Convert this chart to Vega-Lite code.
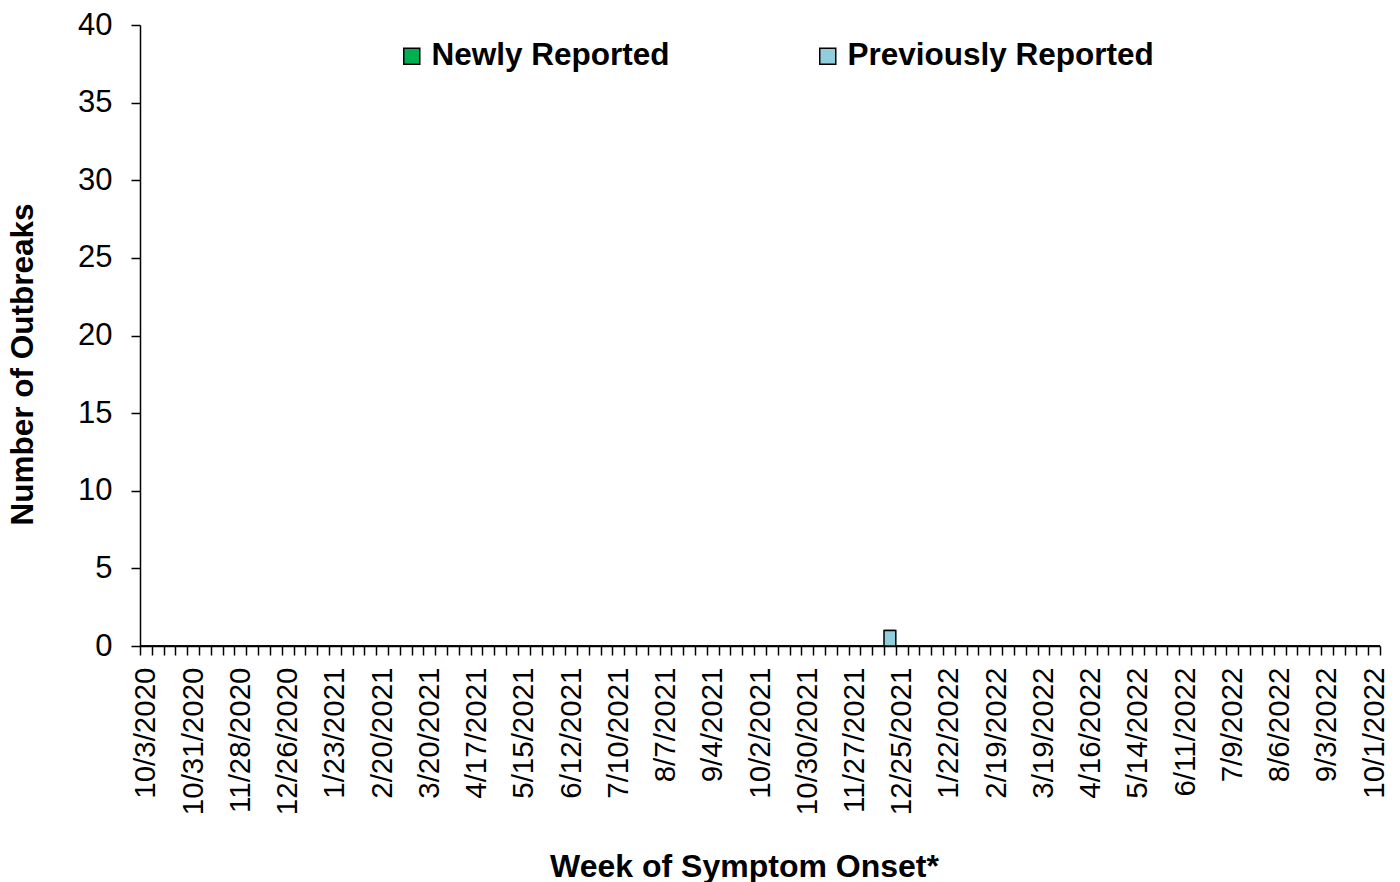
{
  "$schema": "https://vega.github.io/schema/vega-lite/v6.json",
  "autosize": "none",
  "width": 1240,
  "height": 621,
  "padding": {"left": 140, "top": 25, "right": 20, "bottom": 236},
  "background": "white",
  "config": {
    "font": "Liberation Sans",
    "view": {"stroke": null},
    "axis": {"grid": false, "domainColor": "black", "tickColor": "black", "labelColor": "black", "titleColor": "black", "labelFont": "Liberation Sans", "titleFont": "Liberation Sans"}
  },
  "data": {"values": [
    {"week":"10/3/2020","Newly Reported":0,"Previously Reported":0},
    {"week":"10/10/2020","Newly Reported":0,"Previously Reported":0},
    {"week":"10/17/2020","Newly Reported":0,"Previously Reported":0},
    {"week":"10/24/2020","Newly Reported":0,"Previously Reported":0},
    {"week":"10/31/2020","Newly Reported":0,"Previously Reported":0},
    {"week":"11/7/2020","Newly Reported":0,"Previously Reported":0},
    {"week":"11/14/2020","Newly Reported":0,"Previously Reported":0},
    {"week":"11/21/2020","Newly Reported":0,"Previously Reported":0},
    {"week":"11/28/2020","Newly Reported":0,"Previously Reported":0},
    {"week":"12/5/2020","Newly Reported":0,"Previously Reported":0},
    {"week":"12/12/2020","Newly Reported":0,"Previously Reported":0},
    {"week":"12/19/2020","Newly Reported":0,"Previously Reported":0},
    {"week":"12/26/2020","Newly Reported":0,"Previously Reported":0},
    {"week":"1/2/2021","Newly Reported":0,"Previously Reported":0},
    {"week":"1/9/2021","Newly Reported":0,"Previously Reported":0},
    {"week":"1/16/2021","Newly Reported":0,"Previously Reported":0},
    {"week":"1/23/2021","Newly Reported":0,"Previously Reported":0},
    {"week":"1/30/2021","Newly Reported":0,"Previously Reported":0},
    {"week":"2/6/2021","Newly Reported":0,"Previously Reported":0},
    {"week":"2/13/2021","Newly Reported":0,"Previously Reported":0},
    {"week":"2/20/2021","Newly Reported":0,"Previously Reported":0},
    {"week":"2/27/2021","Newly Reported":0,"Previously Reported":0},
    {"week":"3/6/2021","Newly Reported":0,"Previously Reported":0},
    {"week":"3/13/2021","Newly Reported":0,"Previously Reported":0},
    {"week":"3/20/2021","Newly Reported":0,"Previously Reported":0},
    {"week":"3/27/2021","Newly Reported":0,"Previously Reported":0},
    {"week":"4/3/2021","Newly Reported":0,"Previously Reported":0},
    {"week":"4/10/2021","Newly Reported":0,"Previously Reported":0},
    {"week":"4/17/2021","Newly Reported":0,"Previously Reported":0},
    {"week":"4/24/2021","Newly Reported":0,"Previously Reported":0},
    {"week":"5/1/2021","Newly Reported":0,"Previously Reported":0},
    {"week":"5/8/2021","Newly Reported":0,"Previously Reported":0},
    {"week":"5/15/2021","Newly Reported":0,"Previously Reported":0},
    {"week":"5/22/2021","Newly Reported":0,"Previously Reported":0},
    {"week":"5/29/2021","Newly Reported":0,"Previously Reported":0},
    {"week":"6/5/2021","Newly Reported":0,"Previously Reported":0},
    {"week":"6/12/2021","Newly Reported":0,"Previously Reported":0},
    {"week":"6/19/2021","Newly Reported":0,"Previously Reported":0},
    {"week":"6/26/2021","Newly Reported":0,"Previously Reported":0},
    {"week":"7/3/2021","Newly Reported":0,"Previously Reported":0},
    {"week":"7/10/2021","Newly Reported":0,"Previously Reported":0},
    {"week":"7/17/2021","Newly Reported":0,"Previously Reported":0},
    {"week":"7/24/2021","Newly Reported":0,"Previously Reported":0},
    {"week":"7/31/2021","Newly Reported":0,"Previously Reported":0},
    {"week":"8/7/2021","Newly Reported":0,"Previously Reported":0},
    {"week":"8/14/2021","Newly Reported":0,"Previously Reported":0},
    {"week":"8/21/2021","Newly Reported":0,"Previously Reported":0},
    {"week":"8/28/2021","Newly Reported":0,"Previously Reported":0},
    {"week":"9/4/2021","Newly Reported":0,"Previously Reported":0},
    {"week":"9/11/2021","Newly Reported":0,"Previously Reported":0},
    {"week":"9/18/2021","Newly Reported":0,"Previously Reported":0},
    {"week":"9/25/2021","Newly Reported":0,"Previously Reported":0},
    {"week":"10/2/2021","Newly Reported":0,"Previously Reported":0},
    {"week":"10/9/2021","Newly Reported":0,"Previously Reported":0},
    {"week":"10/16/2021","Newly Reported":0,"Previously Reported":0},
    {"week":"10/23/2021","Newly Reported":0,"Previously Reported":0},
    {"week":"10/30/2021","Newly Reported":0,"Previously Reported":0},
    {"week":"11/6/2021","Newly Reported":0,"Previously Reported":0},
    {"week":"11/13/2021","Newly Reported":0,"Previously Reported":0},
    {"week":"11/20/2021","Newly Reported":0,"Previously Reported":0},
    {"week":"11/27/2021","Newly Reported":0,"Previously Reported":0},
    {"week":"12/4/2021","Newly Reported":0,"Previously Reported":0},
    {"week":"12/11/2021","Newly Reported":0,"Previously Reported":0},
    {"week":"12/18/2021","Newly Reported":0,"Previously Reported":1},
    {"week":"12/25/2021","Newly Reported":0,"Previously Reported":0},
    {"week":"1/1/2022","Newly Reported":0,"Previously Reported":0},
    {"week":"1/8/2022","Newly Reported":0,"Previously Reported":0},
    {"week":"1/15/2022","Newly Reported":0,"Previously Reported":0},
    {"week":"1/22/2022","Newly Reported":0,"Previously Reported":0},
    {"week":"1/29/2022","Newly Reported":0,"Previously Reported":0},
    {"week":"2/5/2022","Newly Reported":0,"Previously Reported":0},
    {"week":"2/12/2022","Newly Reported":0,"Previously Reported":0},
    {"week":"2/19/2022","Newly Reported":0,"Previously Reported":0},
    {"week":"2/26/2022","Newly Reported":0,"Previously Reported":0},
    {"week":"3/5/2022","Newly Reported":0,"Previously Reported":0},
    {"week":"3/12/2022","Newly Reported":0,"Previously Reported":0},
    {"week":"3/19/2022","Newly Reported":0,"Previously Reported":0},
    {"week":"3/26/2022","Newly Reported":0,"Previously Reported":0},
    {"week":"4/2/2022","Newly Reported":0,"Previously Reported":0},
    {"week":"4/9/2022","Newly Reported":0,"Previously Reported":0},
    {"week":"4/16/2022","Newly Reported":0,"Previously Reported":0},
    {"week":"4/23/2022","Newly Reported":0,"Previously Reported":0},
    {"week":"4/30/2022","Newly Reported":0,"Previously Reported":0},
    {"week":"5/7/2022","Newly Reported":0,"Previously Reported":0},
    {"week":"5/14/2022","Newly Reported":0,"Previously Reported":0},
    {"week":"5/21/2022","Newly Reported":0,"Previously Reported":0},
    {"week":"5/28/2022","Newly Reported":0,"Previously Reported":0},
    {"week":"6/4/2022","Newly Reported":0,"Previously Reported":0},
    {"week":"6/11/2022","Newly Reported":0,"Previously Reported":0},
    {"week":"6/18/2022","Newly Reported":0,"Previously Reported":0},
    {"week":"6/25/2022","Newly Reported":0,"Previously Reported":0},
    {"week":"7/2/2022","Newly Reported":0,"Previously Reported":0},
    {"week":"7/9/2022","Newly Reported":0,"Previously Reported":0},
    {"week":"7/16/2022","Newly Reported":0,"Previously Reported":0},
    {"week":"7/23/2022","Newly Reported":0,"Previously Reported":0},
    {"week":"7/30/2022","Newly Reported":0,"Previously Reported":0},
    {"week":"8/6/2022","Newly Reported":0,"Previously Reported":0},
    {"week":"8/13/2022","Newly Reported":0,"Previously Reported":0},
    {"week":"8/20/2022","Newly Reported":0,"Previously Reported":0},
    {"week":"8/27/2022","Newly Reported":0,"Previously Reported":0},
    {"week":"9/3/2022","Newly Reported":0,"Previously Reported":0},
    {"week":"9/10/2022","Newly Reported":0,"Previously Reported":0},
    {"week":"9/17/2022","Newly Reported":0,"Previously Reported":0},
    {"week":"9/24/2022","Newly Reported":0,"Previously Reported":0},
    {"week":"10/1/2022","Newly Reported":0,"Previously Reported":0}
  ]},
  "transform": [{"fold": ["Newly Reported", "Previously Reported"], "as": ["status", "count"]}],
  "mark": {"type": "bar", "stroke": "black", "strokeWidth": 1.5},
  "encoding": {
    "x": {
      "field": "week", "type": "ordinal", "sort": null,
      "scale": {"paddingInner": 0, "paddingOuter": 0},
      "axis": {
        "title": "Week of Symptom Onset*",
        "titleFontSize": 32, "titleFontWeight": "bold",
        "titleX": 604, "titleY": 220, "titleAlign": "center", "titleBaseline": "middle",
        "labelAngle": -90, "labelFontSize": 29.5, "labelPadding": 12,
        "labelOverlap": false, "labelBound": false,
        "labelExpr": "(round((toDate(datum.value) - datetime(2020, 9, 3)) / 604800000) % 4 == 0) ? datum.value : ''",
        "tickBand": "extent", "tickSize": 9, "tickWidth": 1.5,
        "domainWidth": 1.5
      }
    },
    "y": {
      "field": "count", "type": "quantitative", "stack": "zero",
      "scale": {"domain": [0, 40], "nice": false},
      "axis": {
        "title": "Number of Outbreaks",
        "titleFontSize": 31.5, "titleFontWeight": "bold",
        "titleX": -117, "titleY": 339, "titleAngle": -90, "titleAlign": "center", "titleBaseline": "middle",
        "values": [0, 5, 10, 15, 20, 25, 30, 35, 40],
        "labelFontSize": 31, "labelPadding": 19,
        "tickSize": 9, "tickWidth": 1.5, "domainWidth": 1.5
      }
    },
    "color": {
      "field": "status", "type": "nominal",
      "scale": {"domain": ["Newly Reported", "Previously Reported"], "range": ["#00B050", "#92CDDC"]},
      "legend": {
        "title": null, "orient": "none", "direction": "horizontal", "columns": 2,
        "legendX": 256, "legendY": 15, "padding": 0,
        "symbolType": "square", "symbolSize": 256, "symbolStrokeColor": "black", "symbolStrokeWidth": 1.5,
        "labelFontSize": 31.5, "labelFontWeight": "bold", "labelColor": "black", "labelOffset": 4,
        "labelLimit": 500, "columnPadding": 142
      }
    }
  }
}
